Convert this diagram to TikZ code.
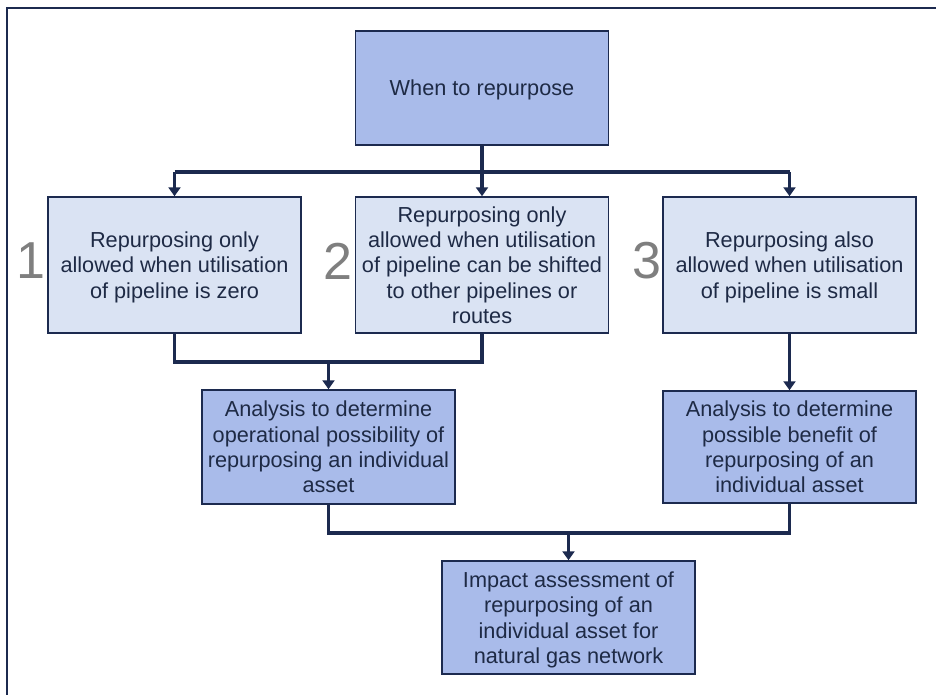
\documentclass[tikz,border=0pt]{standalone}
\usepackage{fontspec}
\setmainfont{Liberation Sans}
\usetikzlibrary{arrows.meta}
\definecolor{navy}{HTML}{1C2A4F}
\definecolor{lightfill}{HTML}{DAE3F3}
\definecolor{darkfill}{HTML}{A9BBEA}
\definecolor{txt}{HTML}{1E2A45}
\definecolor{numgray}{HTML}{7F7F7F}
\begin{document}
\begin{tikzpicture}[x=1pt,y=-1pt,
  box/.style={draw=navy, line width=1.5pt, minimum width=253pt, inner sep=0pt,
    align=center, text depth=0pt, text=txt, font=\fontsize{21.7}{25.4}\selectfont},
  lightbox/.style={box, fill=lightfill},
  darkbox/.style={box, fill=darkfill},
  num/.style={text=numgray, inner sep=0pt, font=\fontsize{52}{52}\selectfont},
  conn/.style={draw=navy, line width=3.5pt, line join=miter},
  arr/.style={conn, -{Triangle[length=9pt, width=12pt]}}]
\useasboundingbox (0,0) rectangle (936,695);

% frame edges
\draw[navy, line width=1.8pt] (7,695) -- (7,8) -- (936,8);

% boxes
\node[darkbox, minimum height=114pt] (top) at (482,88) {When to repurpose};
\node[lightbox, minimum height=136pt] (b1) at (174.5,265)
  {Repurposing only\\allowed when utilisation\\of pipeline is zero};
\node[lightbox, minimum height=136pt] (b2) at (482,265)
  {Repurposing only\\allowed when utilisation\\of pipeline can be shifted\\to other pipelines or\\routes};
\node[lightbox, minimum height=136pt] (b3) at (789.5,265)
  {Repurposing also\\allowed when utilisation\\of pipeline is small};
\node[darkbox, minimum height=114pt] (A) at (328.5,447)
  {Analysis to determine\\operational possibility of\\repurposing an individual\\asset};
\node[darkbox, minimum height=112pt] (B) at (789.5,447)
  {Analysis to determine\\possible benefit of\\repurposing of an\\individual asset};
\node[darkbox, minimum height=113pt] (C) at (568.5,617.5)
  {Impact assessment of\\repurposing of an\\individual asset for\\natural gas network};

% option numbers
\node[num] (n1) at (31,261) {1};
\node[num] (n2) at (338,261) {2};
\node[num] (n3) at (647,261) {3};

% junction points
\coordinate (j1) at (482,172);
\coordinate (j2) at (328.5,362);
\coordinate (j3) at (568.5,533);

% connectors
\draw[conn] (top.south) -- (j1);
\draw[conn] (b1.north |- j1) -- (b3.north |- j1);
\draw[arr] (b1.north |- j1) -- (b1.north);
\draw[arr] (j1) -- (b2.north);
\draw[arr] (b3.north |- j1) -- (b3.north);

\draw[conn] (b1.south) -- (b1.south |- j2) -- (b2.south |- j2) -- (b2.south);
\draw[arr] (A.north |- j2) -- (A.north);
\draw[arr] (b3.south) -- (B.north);

\draw[conn] (A.south) -- (A.south |- j3) -- (B.south |- j3) -- (B.south);
\draw[arr] (C.north |- j3) -- (C.north);
\end{tikzpicture}
\end{document}
